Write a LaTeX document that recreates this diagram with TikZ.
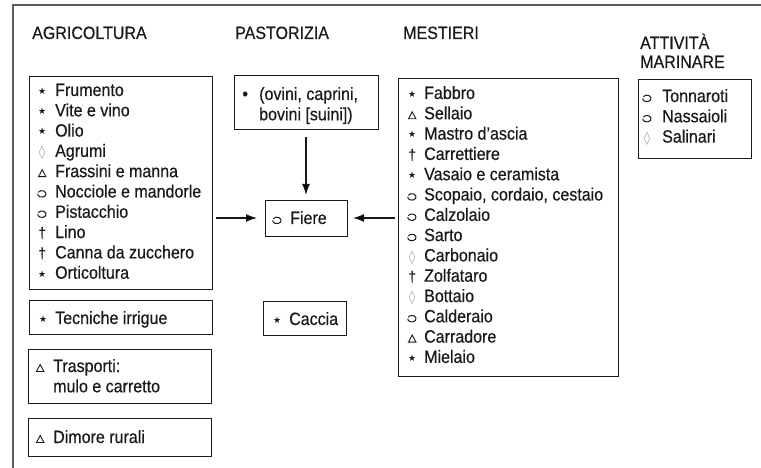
\documentclass[tikz,border=0pt]{standalone}
\usepackage{fontspec}
\setmainfont{Liberation Sans}[FakeStretch=0.90,FakeBold=0.5]
\newfontfamily\symf{DejaVu Sans}
\usetikzlibrary{arrows.meta}
\definecolor{ink}{HTML}{1A1A1A}
\definecolor{framec}{HTML}{5A5A5A}
\definecolor{lozc}{HTML}{A8A8A8}
\newcommand\sst{\raisebox{1.6pt}{\symf\fontsize{9}{9}\selectfont ★}}
\newcommand\stri{\tikz[baseline=0pt]\draw[line width=0.9pt,color=ink,line join=miter] (0pt,0.5pt) -- (7.5pt,0.5pt) -- (3.75pt,7.5pt) -- cycle;}
\newcommand\sdag{{\fontsize{15}{15}\selectfont †}}
\newcommand\sloz{\textcolor{lozc}{\symf\fontsize{13}{13}\selectfont ◊}}
\newcommand\sbul{{\fontsize{18}{18}\selectfont •}}
\newcommand\sopn{\tikz[baseline=0pt]\draw[line width=1pt,color=ink] (4pt,3.6pt) +(150:4.2pt and 3.3pt) arc[start angle=150,end angle=-180,x radius=4.2pt,y radius=3.3pt];}
\newcommand\li[3][7pt]{\makebox[12pt][c]{#2}\hspace{#1}#3}
\newcommand\lst[1]{\begin{tabular}[t]{@{}l@{}}#1\end{tabular}}
\tikzset{
  box/.style={draw=ink, line width=0.9pt, inner sep=0pt, outer sep=0pt, rectangle},
  head/.style={text=ink, font=\fontsize{17.8}{20}\selectfont, inner sep=0pt, anchor=base west},
  lsty/.style={text=ink, font=\fontsize{17.8}{20.3}\selectfont, inner sep=0pt, anchor=base west},
  arr/.style={draw=ink, line width=1.1pt, -{Latex[length=11pt,width=8pt]}},
  framel/.style={draw=framec, line width=1.3pt}
}
\begin{document}
\begin{tikzpicture}[x=1pt,y=-1pt]
\useasboundingbox (0,0) rectangle (761,468);
% outer frame
\coordinate (ftl) at (13,5);
\coordinate (ftr) at (761,5);
\coordinate (fbl) at (13,468);
\draw[framel] (ftr) -- (ftl) -- (fbl);
% headings
\node[head] (hagri) at (32,39) {AGRICOLTURA};
\node[head] (hpast) at (235,39) {PASTORIZIA};
\node[head] (hmest) at (403,39) {MESTIERI};
\node[head] (hmar1) at (640,49) {ATTIVITÀ};
\node[head] (hmar2) at (640,68) {MARINARE};
% boxes
\node[box, minimum width=183pt, minimum height=213pt] (agri) at (120.5,182.5) {};
\node[box, minimum width=183pt, minimum height=34pt] (tecn) at (120.5,317) {};
\node[box, minimum width=183pt, minimum height=54pt] (trasp) at (119.5,376) {};
\node[box, minimum width=183pt, minimum height=38pt] (dim) at (119.5,437) {};
\node[box, minimum width=144pt, minimum height=54pt] (past) at (306,102) {};
\node[box, minimum width=82pt, minimum height=36pt] (fiere) at (306,218) {};
\node[box, minimum width=83pt, minimum height=34pt] (caccia) at (304.5,318) {};
\node[box, minimum width=220pt, minimum height=298pt] (mest) at (508,227) {};
\node[box, minimum width=113pt, minimum height=79pt] (mar) at (694.5,118.5) {};
% lists
\node[lsty] (agril) at (36,96) {\lst{%
\li{\sst}{Frumento}\\
\li{\sst}{Vite e vino}\\
\li{\sst}{Olio}\\
\li{\sloz}{Agrumi}\\
\li{\stri}{Frassini e manna}\\
\li{\sopn}{Nocciole e mandorle}\\
\li{\sopn}{Pistacchio}\\
\li{\sdag}{Lino}\\
\li{\sdag}{Canna da zucchero}\\
\li{\sst}{Orticoltura}}};
\node[lsty] (tecnl) at (37,324) {\li[6pt]{\sst}{Tecniche irrigue}};
\node[lsty] (traspl) at (34,372) {\lst{\li{\stri}{Trasporti:}\\ \li{}{mulo e carretto}}};
\node[lsty] (diml) at (34,443) {\li{\stri}{Dimore rurali}};
\node[lsty] (pastl) at (239,100) {\lst{\li[8pt]{\sbul}{(ovini, caprini,}\\ \li[8pt]{}{bovini [suini])}}};
\node[lsty] (fierel) at (271,224) {\li{\sopn}{Fiere}};
\node[lsty] (caccial) at (271,325) {\li[6pt]{\sst}{Caccia}};
\node[lsty] (mestl) at (406,99) {\lst{%
\li[6pt]{\sst}{Fabbro}\\
\li[6pt]{\stri}{Sellaio}\\
\li[6pt]{\sst}{Mastro d’ascia}\\
\li[6pt]{\sdag}{Carrettiere}\\
\li[6pt]{\sst}{Vasaio e ceramista}\\
\li[6pt]{\sopn}{Scopaio, cordaio, cestaio}\\
\li[6pt]{\sopn}{Calzolaio}\\
\li[6pt]{\sopn}{Sarto}\\
\li[6pt]{\sloz}{Carbonaio}\\
\li[6pt]{\sdag}{Zolfataro}\\
\li[6pt]{\sloz}{Bottaio}\\
\li[6pt]{\sopn}{Calderaio}\\
\li[6pt]{\stri}{Carradore}\\
\li[6pt]{\sst}{Mielaio}}};
\node[lsty] (marl) at (641,102) {\lst{%
\li[9pt]{\sopn}{Tonnaroti}\\
\li[9pt]{\sopn}{Nassaioli}\\
\li[9pt]{\sloz}{Salinari}}};
% arrows
\draw[arr, shorten <=8pt, shorten >=5pt] (past.south) -- (fiere.north);
\draw[arr, shorten <=4pt, shorten >=8pt] (agri.east |- fiere.west) -- (fiere.west);
\draw[arr, shorten <=3pt, shorten >=6pt] (mest.west |- fiere.east) -- (fiere.east);
\end{tikzpicture}
\end{document}
